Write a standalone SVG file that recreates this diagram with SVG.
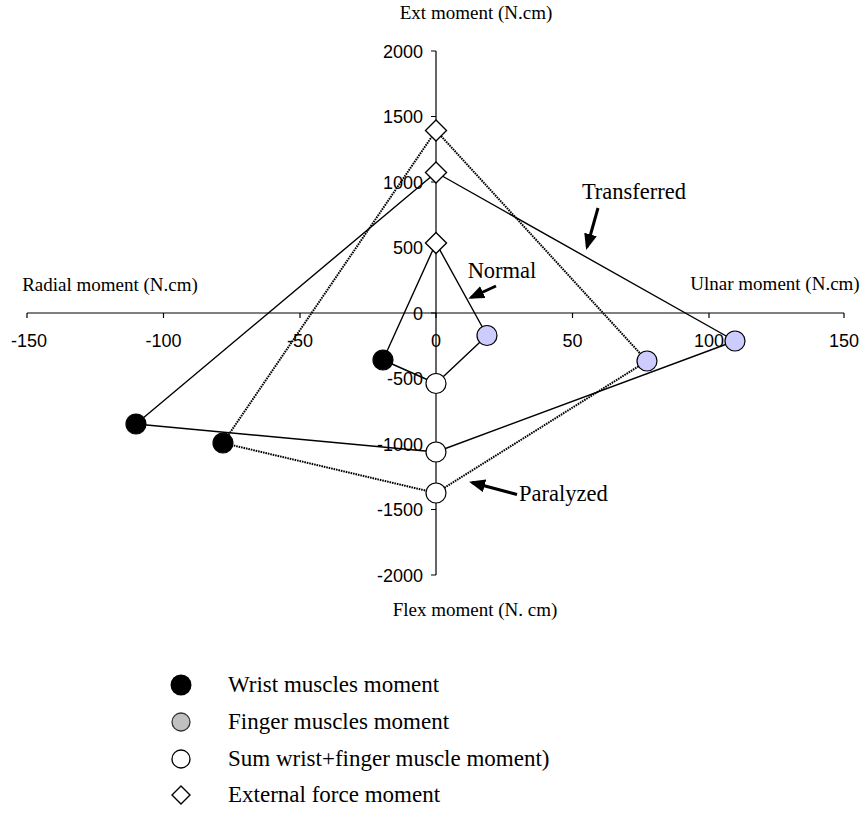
<svg xmlns="http://www.w3.org/2000/svg" width="862" height="827" viewBox="0 0 862 827">
<style>
.ax{stroke:#000;stroke-width:1.2;fill:none}
.tk{font-family:"Liberation Sans",Arial,sans-serif;font-size:18px;fill:#000}
.tl{font-family:"Liberation Serif","Times New Roman",serif;font-size:19px;fill:#000}
.an{font-family:"Liberation Serif","Times New Roman",serif;font-size:22.5px;fill:#000}
.lg{font-family:"Liberation Serif","Times New Roman",serif;font-size:23px;fill:#000}
.solid{stroke:#000;stroke-width:1.4;fill:none;stroke-linejoin:round}
.dot{stroke:#000;stroke-width:2;fill:none;stroke-dasharray:1.6 0.9}
.arr{stroke:#000;stroke-width:3;fill:none}
.w{fill:#000;stroke:#000;stroke-width:1.2}
.f{fill:#ccccff;stroke:#000;stroke-width:1.2}
.s{fill:#fff;stroke:#000;stroke-width:1.2}
.e{fill:#fff;stroke:#000;stroke-width:1.4}
</style>
<defs>
<marker id="ah" markerWidth="16" markerHeight="13" refX="13" refY="6.5" orient="auto" markerUnits="userSpaceOnUse">
<path d="M0,0 L16,6.5 L0,13 Z" fill="#000"/>
</marker>
<circle id="c" r="10"/>
<path id="d" d="M0,-10.5 L10.5,0 L0,10.5 L-10.5,0 Z"/>
</defs>
<g id="axes">
<path class="ax" d="M436,51 V575 M27,313 H844"/>
<path class="ax" d="M431,51 H436 M431,116.5 H436 M431,182 H436 M431,247.5 H436 M431,313 H436 M431,378.5 H436 M431,444 H436 M431,509.5 H436 M431,575 H436"/>
<path class="ax" d="M27,313 V318 M163.5,313 V318 M300,313 V318 M436,313 V318 M572.5,313 V318 M709,313 V318 M844,313 V318"/>
<g class="tk" text-anchor="end">
<text x="423" y="58">2000</text>
<text x="423" y="123">1500</text>
<text x="423" y="189">1000</text>
<text x="423" y="254">500</text>
<text x="423" y="320">0</text>
<text x="423" y="385">-500</text>
<text x="423" y="451">-1000</text>
<text x="423" y="516">-1500</text>
<text x="423" y="582">-2000</text>
</g>
<g class="tk" text-anchor="middle">
<text x="29" y="347">-150</text>
<text x="163.5" y="347">-100</text>
<text x="300" y="347">-50</text>
<text x="436" y="347">0</text>
<text x="572.5" y="347">50</text>
<text x="709" y="347">100</text>
<text x="844" y="347">150</text>
</g>
<g class="tl" text-anchor="middle">
<text x="476" y="19">Ext moment (N.cm)</text>
<text x="475" y="616">Flex moment (N. cm)</text>
<text x="110" y="291">Radial moment (N.cm)</text>
<text x="775" y="290">Ulnar moment (N.cm)</text>
</g>
</g>
<g id="connectors">
<polygon id="normal-line" class="solid" points="436,243 487,335.5 436,383.5 383,360"/>
<polygon id="transferred-line" class="solid" points="436,172.5 735,341 436,452 136,424"/>
<polygon id="paralyzed-line" class="dot" points="436,130.5 647,361 436,493 223,443"/>
<line class="arr" x1="598" y1="208" x2="587" y2="247" marker-end="url(#ah)"/>
<line class="arr" x1="496" y1="286" x2="471" y2="297.5" marker-end="url(#ah)"/>
<line class="arr" x1="517" y1="494.5" x2="472" y2="482.5" marker-end="url(#ah)"/>
</g>
<g id="labels">
<text class="an" x="634" y="199" text-anchor="middle">Transferred</text>
<text class="an" x="502" y="278" text-anchor="middle">Normal</text>
<text class="an" x="519" y="501">Paralyzed</text>
</g>
<g id="normal-ext"><use href="#d" class="e" x="436" y="243"/></g>
<g id="transferred-ext"><use href="#d" class="e" x="436" y="172.5"/></g>
<g id="paralyzed-ext"><use href="#d" class="e" x="436" y="130.5"/></g>
<g id="normal-finger"><use href="#c" class="f" x="487" y="335.5"/></g>
<g id="transferred-finger"><use href="#c" class="f" x="735" y="341"/></g>
<g id="paralyzed-finger"><use href="#c" class="f" x="647" y="361"/></g>
<g id="normal-sum"><use href="#c" class="s" x="436" y="383.5"/></g>
<g id="transferred-sum"><use href="#c" class="s" x="436" y="452"/></g>
<g id="paralyzed-sum"><use href="#c" class="s" x="436" y="493"/></g>
<g id="normal-wrist"><use href="#c" class="w" x="383" y="360"/></g>
<g id="transferred-wrist"><use href="#c" class="w" x="136" y="424"/></g>
<g id="paralyzed-wrist"><use href="#c" class="w" x="223" y="443"/></g>
<g id="legend">
<g id="legend-wrist"><circle cx="181" cy="685" r="10.5" fill="#000"/><text class="lg" x="228" y="692">Wrist muscles moment</text></g>
<g id="legend-finger"><circle cx="181" cy="722" r="9" fill="#c0c0c0" stroke="#333" stroke-width="1.3"/><text class="lg" x="228" y="729">Finger muscles moment</text></g>
<g id="legend-sum"><circle cx="181" cy="759" r="9" fill="#fff" stroke="#000" stroke-width="1.3"/><text class="lg" x="228" y="766">Sum wrist+finger muscle moment)</text></g>
<g id="legend-ext"><path d="M181,786 L190,795 L181,804 L172,795 Z" fill="#fff" stroke="#000" stroke-width="1.4"/><text class="lg" x="228" y="802">External force moment</text></g>
</g>
</svg>
